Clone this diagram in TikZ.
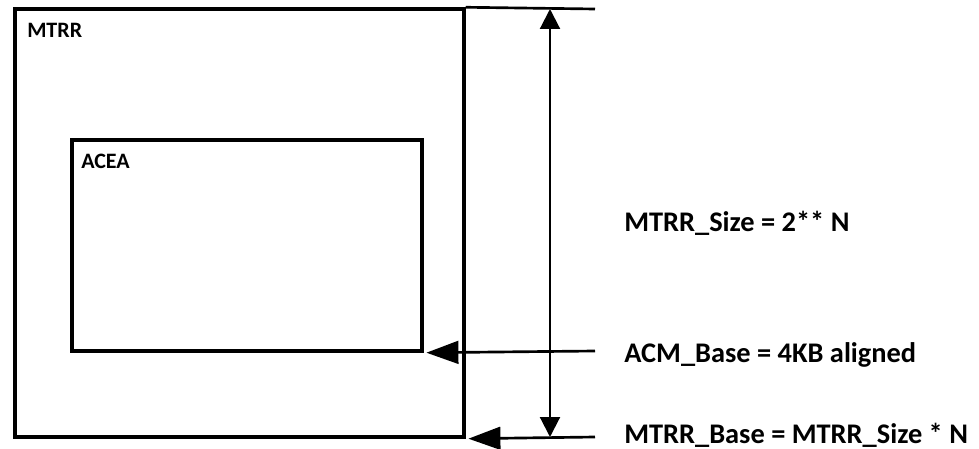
\documentclass[tikz,border=0pt]{standalone}
\usepackage{fontspec}
\setmainfont{Carlito}
\usepackage{tikz}
\usetikzlibrary{arrows.meta, positioning}

\begin{document}
\begin{tikzpicture}[
        x=0.75pt, y=-0.75pt,
        memblock/.style={draw=black, line width=2.6pt, inner sep=0pt},
        tag/.style={font=\fontsize{16.5}{19}\selectfont\bfseries, inner sep=0pt, anchor=base west},
        note/.style={font=\fontsize{21.3}{25}\selectfont\bfseries, inner sep=0pt, anchor=base west},
        guide/.style={draw=black, line width=2pt},
        pointer/.style={guide, -{Triangle[length=24pt, width=17pt]}, shorten >=2pt},
        span/.style={draw=black, line width=1.6pt, {Triangle[length=15pt, width=15pt]}-{Triangle[length=15pt, width=15pt]}}
      ]
      \useasboundingbox (0,0) rectangle (979,449);
      \node[memblock, minimum width=336.75pt, minimum height=321pt] (mtrr) at (239.5,223) {};
      \node[memblock, minimum width=262.5pt, minimum height=158.25pt] (acea) at (247,245.5) {};
      \node[tag] (mtrrtag) at (27,38) {MTRR};
      \node[tag] (aceatag) at (81,169) {ACEA};

      \coordinate (topend) at (595,9);
      \coordinate (acmend) at (595,351);
      \coordinate (baseend) at (595,437);
      \coordinate (spantop) at (550,9);
      \coordinate (spanbot) at (550,437);

      \draw[guide] (mtrr.north east) -- (topend);
      \draw[pointer] (acmend) -- (acea.south east);
      \draw[pointer] (baseend) -- (mtrr.south east);
      \draw[span] (spantop) -- (spanbot);

      \node[note] (sizenote) at (624,232) {MTRR\_Size = 2** N};
      \node[note] (acmnote) at (624,362) {ACM\_Base = 4KB aligned};
      \node[note] (basenote) at (624,443) {MTRR\_Base = MTRR\_Size * N};
      \end{tikzpicture}
\end{document}
